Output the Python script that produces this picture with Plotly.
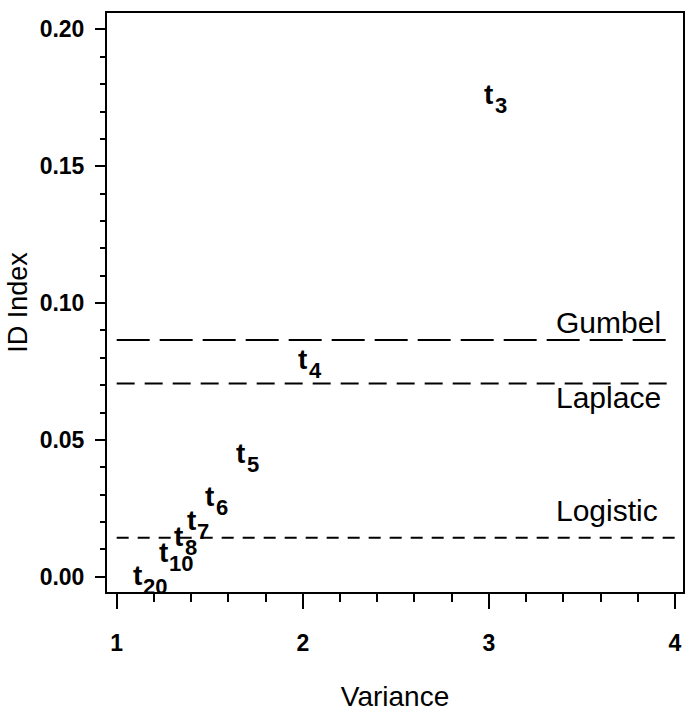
import plotly.graph_objects as go

# t-distribution labels (degrees of freedom), variance and ID index
t_df = ["3", "4", "5", "6", "7", "8", "10", "20"]
t_variance = [3.0, 2.0, 1.667, 1.5, 1.4, 1.333, 1.25, 1.111]
t_id_index = [0.176, 0.0791, 0.0448, 0.0291, 0.0200, 0.0145, 0.0083, 0.0000]

# reference distributions (horizontal lines)
ref_names = ["Gumbel", "Laplace", "Logistic"]
ref_values = [0.0865, 0.0706, 0.0142]
ref_x = [1, 4]

x_ticks = [1, 2, 3, 4]
y_ticks = [0.00, 0.05, 0.10, 0.15, 0.20]

FONT = "Liberation Sans, Arial, Helvetica, sans-serif"

dash_styles = ["33px,10px", "18px,10px", "12px,9px"]
label_shift = [17, -14, 27]

fig = go.Figure()
for name, val, dsh in zip(ref_names, ref_values, dash_styles):
    fig.add_trace(go.Scatter(x=ref_x, y=[val, val], mode="lines",
                             line=dict(color="black", width=2, dash=dsh),
                             showlegend=False, hoverinfo="skip"))

annotations = []
for name, val, ys in zip(ref_names, ref_values, label_shift):
    annotations.append(dict(x=3.35, y=val, xref="x", yref="y", text=name,
                            showarrow=False, xanchor="left", yanchor="middle",
                            yshift=ys, font=dict(family=FONT, size=30, color="black")))

for df, vx, vy in zip(t_df, t_variance, t_id_index):
    annotations.append(dict(x=vx, y=vy, xref="x", yref="y", text="t",
                            showarrow=False, xanchor="center", yanchor="middle",
                            yshift=1,
                            font=dict(family=FONT, size=28, color="black", weight="bold")))
    annotations.append(dict(x=vx, y=vy, xref="x", yref="y", text=df,
                            showarrow=False, xanchor="left", yanchor="middle",
                            xshift=4, yshift=-10,
                            font=dict(family=FONT, size=22, color="black", weight="bold")))

fig.update_layout(
    width=690, height=712,
    margin=dict(l=107, r=7, t=13, b=120),
    paper_bgcolor="white", plot_bgcolor="white",
    showlegend=False,
    annotations=annotations,
    font=dict(family=FONT, color="black"),
)

fig.update_xaxes(
    range=[0.948, 4.043], tickvals=x_ticks, ticktext=[str(v) for v in x_ticks],
    automargin=False,
    showgrid=False, zeroline=False,
    showline=True, mirror=True, linecolor="black", linewidth=2,
    ticks="outside", ticklen=15, tickwidth=2, tickcolor="black",
    tickfont=dict(family=FONT, size=23, color="black", weight="bold"),
    ticklabelstandoff=14,
    minor=dict(dtick=0.2, tick0=1, ticks="outside", ticklen=8, tickwidth=1.5, tickcolor="black"),
    title=dict(text="Variance", font=dict(family=FONT, size=28, color="black"), standoff=34),
)
fig.update_yaxes(
    range=[-0.0056, 0.206], tickvals=y_ticks, ticktext=["%.2f" % v for v in y_ticks],
    automargin=False,
    showgrid=False, zeroline=False,
    showline=True, mirror=True, linecolor="black", linewidth=2,
    ticks="outside", ticklen=10, tickwidth=2, tickcolor="black",
    tickfont=dict(family=FONT, size=23, color="black", weight="bold"),
    ticklabelstandoff=6,
    minor=dict(dtick=0.01, tick0=0, ticks="outside", ticklen=5, tickwidth=1.5, tickcolor="black"),
    title=dict(text="ID Index", font=dict(family=FONT, size=27, color="black"), standoff=4),
)

fig.write_html("out.html", config={"displayModeBar": False},
               post_script="document.body.style.margin='0';")
